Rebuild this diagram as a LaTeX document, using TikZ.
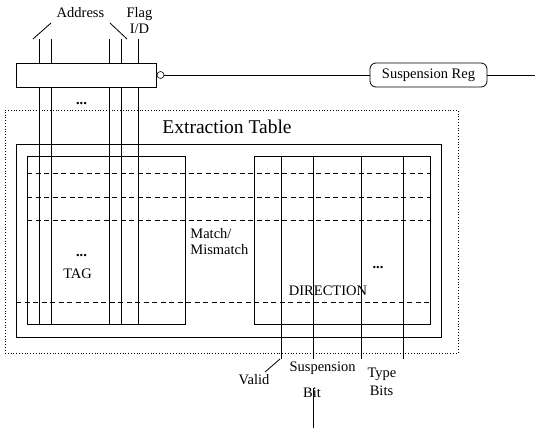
\documentclass[tikz,border=0pt]{standalone}
\usepackage{fontspec}
\setmainfont{Liberation Serif}
\begin{document}
\begin{tikzpicture}[x=1pt,y=-1pt,line width=0.8pt,
  lbl/.style={font=\fontsize{14.5}{16}\selectfont,inner sep=0pt},
  big/.style={font=\fontsize{19.5}{22}\selectfont,inner sep=0pt},
  box/.style={draw,inner sep=0pt},
  dashline/.style={dash pattern=on 5pt off 3.5pt},
  dotline/.style={dash pattern=on 0.8pt off 2pt,line width=0.7pt},
  dots/.style={font=\fontsize{14.5}{16}\selectfont\bfseries,inner sep=0pt,anchor=base}]
\useasboundingbox (0,0) rectangle (535,429);
% containers
\node[box,dotline,minimum width=453pt,minimum height=243pt] (ext) at (231.5,231.5) {};
\node[box,minimum width=425pt,minimum height=193pt] (outer) at (228.5,240.5) {};
\node[box,minimum width=158pt,minimum height=168pt] (tag) at (106,240) {};
\node[box,minimum width=176pt,minimum height=168pt] (dir) at (342,240) {};
% dashed rows
\foreach \yy in {173,197,220} {
  \coordinate (dl\yy) at (27,\yy); \coordinate (dr\yy) at (430,\yy);
  \draw[dashline] (dl\yy) -- (dr\yy);
}
\coordinate (dl302) at (16,302); \coordinate (dr302) at (430,302);
\draw[dashline] (dl302) -- (dr302);
% address / flag lines through the tag part
\foreach \xx in {39,51,109,121,138} {
  \coordinate (vt\xx) at (\xx,39); \coordinate (vb\xx) at (\xx,324);
  \draw (vt\xx) -- (vb\xx);
}
\coordinate (s1a) at (33,39); \coordinate (s1b) at (51,23);
\coordinate (s2a) at (110,23); \coordinate (s2b) at (127,39);
\draw (s1a) -- (s1b);
\draw (s2a) -- (s2b);
% register
\node[box,fill=white,minimum width=140pt,minimum height=24pt] (reg) at (86,75) {};
\node[draw,circle,minimum size=7pt,inner sep=0pt,line width=0.6pt] (inv) at (160.5,75) {};
\node[draw,rounded corners=6pt,minimum width=117pt,minimum height=24pt,lbl] (sreg) at (428.5,75) {Suspension Reg};
\coordinate (rend) at (535,75);
\draw (inv) -- (sreg);
\draw (sreg) -- (rend);
% direction columns
\foreach \xx in {281,361,403} {
  \coordinate (dt\xx) at (\xx,156); \coordinate (db\xx) at (\xx,359);
  \draw (dt\xx) -- (db\xx);
}
\coordinate (dt313) at (313,156); \coordinate (db313) at (313,359);
\draw (dt313) -- (db313);
\coordinate (bt313) at (313,388); \coordinate (bb313) at (313,428);
\draw (bt313) -- (bb313);
\coordinate (va) at (265,372); \coordinate (vb) at (280,359);
\draw (va) -- (vb);
% labels
\node[lbl,anchor=base] (address) at (80.5,17.5) {Address};
\node[lbl,anchor=base] (flag) at (139.5,17.5) {Flag};
\node[lbl,anchor=base] (id) at (139.5,33.3) {I/D};
\node[dots] (rdots) at (81.5,104.5) {...};
\node[big,anchor=base] (etitle) at (227,133) {Extraction Table};
\node[dots] (tdots) at (81.5,256) {...};
\node[lbl,anchor=base] (tagl) at (77.6,278) {TAG};
\node[lbl,anchor=base west] (match) at (190,238) {Match/};
\node[lbl,anchor=base west] (mism) at (190,254) {Mismatch};
\node[lbl,anchor=base] (dirl) at (328,295) {DIRECTION};
\node[dots] (ddots) at (378,268) {...};
\node[lbl,anchor=base] (valid) at (254,384.6) {Valid};
\node[lbl,anchor=base] (susp) at (322.6,371) {Suspension};
\node[lbl,anchor=base] (bit) at (312,397.6) {Bit};
\node[lbl,anchor=base] (type) at (382,377.3) {Type};
\node[lbl,anchor=base] (bits) at (381.5,395) {Bits};
\end{tikzpicture}
\end{document}
